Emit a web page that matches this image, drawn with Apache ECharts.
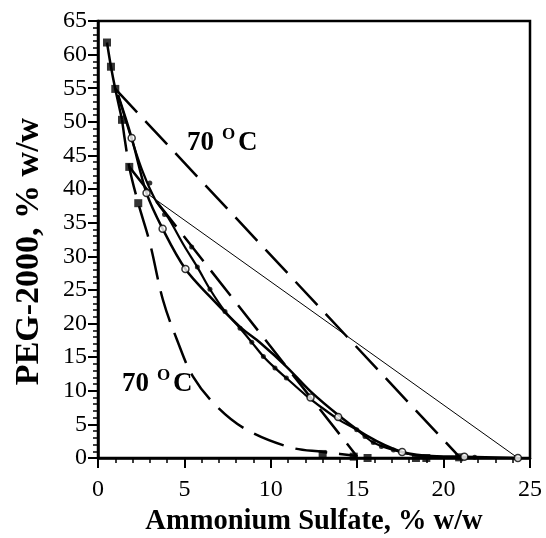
<!DOCTYPE html>
<html>
<head>
<meta charset="utf-8">
<script src="https://cdn.jsdelivr.net/npm/echarts@6/dist/echarts.min.js"></script>
<style>
html, body { margin: 0; padding: 0; background: #fff; }
#main { width: 546px; height: 538px; }
</style>
</head>
<body>
<div id="main"></div>
<script>
// 70 oC: filled squares, long dashed binodal + tie lines
var squarePts = [[0.52, 61.8], [0.75, 58.2], [1.0, 54.9], [1.39, 50.3], [1.81, 43.3], [2.33, 37.9],
	[13.0, 0.6], [14.8, 0.2], [15.6, 0.0], [18.4, 0.0], [19.0, 0.0], [20.9, 0.1]];
var squareCurveTop = [[0.52, 61.8], [0.75, 58.2], [1.0, 54.9], [1.39, 50.3]];
var squareCurve = [[1.39, 50.3], [1.81, 43.3], [2.33, 37.9],
	[3.0, 32.0], [3.76, 23.5], [4.57, 17.6], [5.5, 12.1], [6.9, 7.6], [8.6, 4.2], [11.1, 1.6],
	[13.0, 0.9], [14.0, 0.6], [15.0, 0.3]];
var squareTie1 = [[1.0, 54.9], [20.9, 0.2]];
var squareTie2 = [[1.81, 43.3], [15.0, 0.2]];

// open circles, solid binodal + thin tie line
var circlePts = [[1.95, 47.6], [2.81, 39.4], [3.74, 34.1], [5.06, 28.1], [12.3, 9.0], [13.9, 6.1],
	[17.6, 0.9], [21.2, 0.2], [24.3, 0.0]];
var circleCurve = [[1.16, 54.0], [1.95, 47.6], [2.81, 39.4], [3.74, 34.1], [5.06, 28.1], [6.48, 24.0],
	[8.22, 19.5], [9.4, 17.1], [10.9, 13.6], [12.3, 9.9], [13.9, 6.4], [15.5, 3.4], [17.6, 0.9],
	[19.6, 0.25], [21.2, 0.2], [24.3, 0.0]];
var circleTie = [[2.81, 39.4], [24.3, 0.0]];

// filled dots, solid binodal
var dotPts = [[3.0, 40.9], [3.85, 36.2], [5.42, 31.4], [5.75, 28.4], [6.48, 25.1], [7.35, 21.8],
	[8.22, 19.3], [8.9, 17.2], [9.57, 15.1], [10.24, 13.4], [10.9, 11.9], [14.97, 4.2], [15.45, 3.2],
	[15.93, 2.3], [16.4, 1.7], [17.1, 1.2], [21.8, 0.1]];
var dotCurve = [[1.16, 54.0], [2.0, 47.0], [2.6, 42.5], [3.3, 38.5], [4.07, 35.7], [5.0, 31.5],
	[5.75, 28.4], [6.48, 25.1], [7.35, 21.8], [8.22, 19.3], [8.9, 17.2], [9.57, 15.1], [10.24, 13.4],
	[10.9, 11.9], [12.0, 9.4], [13.0, 7.4], [14.0, 5.6], [14.97, 4.2], [15.93, 2.3], [17.1, 1.2],
	[18.4, 0.4], [20.0, 0.15], [21.8, 0.1]];

var xTicks = [0, 5, 10, 15, 20, 25];
var yTicks = [0, 5, 10, 15, 20, 25, 30, 35, 40, 45, 50, 55, 60, 65];

var serif = '"Liberation Serif", "Times New Roman", serif';
var chart = echarts.init(document.getElementById('main'));

function lineSeries(data, width, dash, smooth) {
	return {
		type: 'line',
		data: data,
		showSymbol: false,
		symbol: 'none',
		smooth: smooth,
		silent: true,
		lineStyle: { color: '#000', width: width, type: dash },
		z: 2
	};
}

chart.setOption({
	animation: false,
	backgroundColor: '#fff',
	grid: { left: 98, right: 16, top: 21, bottom: 80, show: true, borderColor: '#000', borderWidth: 2.5,
		outerBoundsMode: 'none', containLabel: false },
	xAxis: {
		type: 'value', min: 0, max: 25, interval: 5,
		name: 'Ammonium Sulfate, % w/w', nameLocation: 'middle', nameGap: 28,
		nameTextStyle: { fontFamily: serif, fontWeight: 'bold', fontSize: 28.5, color: '#000' },
		axisLine: { show: true, lineStyle: { color: '#000', width: 2.5 } },
		axisTick: { show: true, inside: false, length: 10, lineStyle: { color: '#000', width: 2 } },
		minorTick: { show: true, splitNumber: 5, length: 5, lineStyle: { color: '#000', width: 1.5 } },
		splitLine: { show: false },
		axisLabel: { margin: 20, fontFamily: serif, fontSize: 24, color: '#000',
			formatter: function(v) { return xTicks.indexOf(v) >= 0 ? String(v) : ''; } }
	},
	yAxis: {
		type: 'value', min: 0, max: 65, interval: 5,
		name: 'PEG-2000, % w/w', nameLocation: 'middle', nameGap: 52, nameRotate: 90,
		nameTextStyle: { fontFamily: serif, fontWeight: 'bold', fontSize: 34, color: '#000',
			padding: [0, 24, 0, 0] },
		axisLine: { show: true, lineStyle: { color: '#000', width: 2.5 } },
		axisTick: { show: true, inside: false, length: 10, lineStyle: { color: '#000', width: 2 } },
		minorTick: { show: true, splitNumber: 5, length: 5, lineStyle: { color: '#000', width: 1.5 } },
		splitLine: { show: false },
		axisLabel: { margin: 11, fontFamily: serif, fontSize: 24, color: '#000',
			formatter: function(v) { return yTicks.indexOf(v) >= 0 ? String(v) : ''; } }
	},
	series: [
		lineSeries(squareCurveTop, 2.5, 'solid', 0.3),
		lineSeries(squareCurve, 2.5, [32, 12], 0.35),
		lineSeries(squareTie1, 2.5, [32, 12], false),
		lineSeries(squareTie2, 2.5, [32, 12], false),
		lineSeries(circleCurve, 2.5, 'solid', 0.35),
		lineSeries(circleTie, 1, 'solid', false),
		lineSeries(dotCurve, 2.2, 'solid', 0.35),
		{
			type: 'scatter', data: squarePts, symbol: 'rect', symbolSize: 8, silent: true,
			itemStyle: { color: '#000' }, z: 4
		},
		{
			type: 'scatter', data: circlePts, symbol: 'circle', symbolSize: 7, silent: true,
			itemStyle: { color: '#fff', borderColor: '#000', borderWidth: 1.5 }, z: 4
		},
		{
			type: 'scatter', data: dotPts, symbol: 'circle', symbolSize: 5, silent: true,
			itemStyle: { color: '#000' }, z: 4
		}
	],
	graphic: [
		{ type: 'text', left: 187, top: 130, z: 10,
			style: { text: '70', font: 'bold 27px ' + serif, fill: '#000' } },
		{ type: 'text', left: 222, top: 126, z: 10,
			style: { text: 'O', font: 'bold 17px ' + serif, fill: '#000' } },
		{ type: 'text', left: 238, top: 130, z: 10,
			style: { text: 'C', font: 'bold 27px ' + serif, fill: '#000' } },
		{ type: 'text', left: 122, top: 371, z: 10,
			style: { text: '70', font: 'bold 27px ' + serif, fill: '#000' } },
		{ type: 'text', left: 157, top: 367, z: 10,
			style: { text: 'O', font: 'bold 17px ' + serif, fill: '#000' } },
		{ type: 'text', left: 173, top: 371, z: 10,
			style: { text: 'C', font: 'bold 27px ' + serif, fill: '#000' } }
	]
});
</script>
</body>
</html>
